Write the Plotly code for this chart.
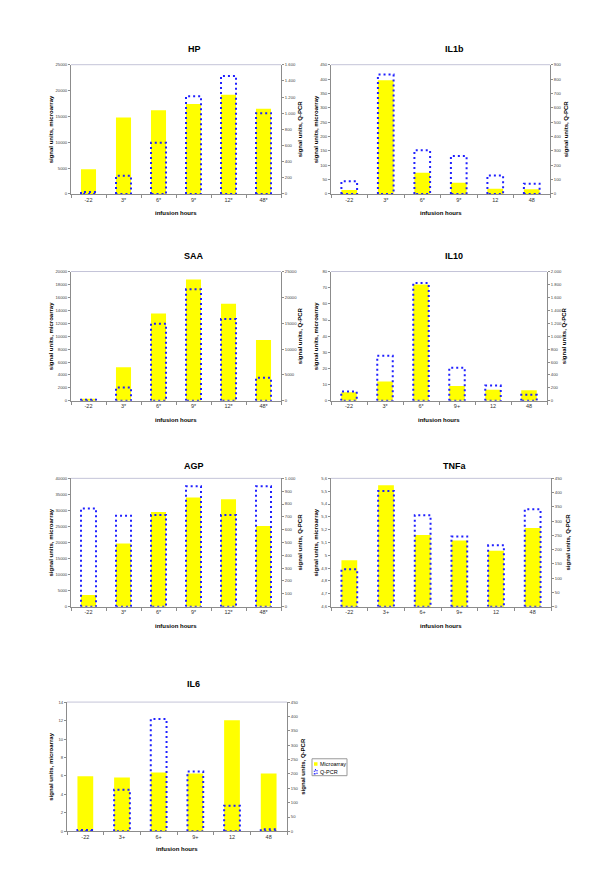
import plotly.graph_objects as go

W, H = 600, 889

# ---------------- data ----------------
HP_cats = ["-22", "3*", "6*", "9*", "12*", "48*"]
HP_micro = [4800, 14800, 16200, 17400, 19200, 16500]
HP_qpcr = [25, 225, 634, 1211, 1461, 1000]
HP_lticks = [0, 5000, 10000, 15000, 20000, 25000]
HP_ltext = ["0", "5000", "10000", "15000", "20000", "25000"]
HP_rticks = [0, 200, 400, 600, 800, 1000, 1200, 1400, 1600]
HP_rtext = ["0", "200", "400", "600", "800", "1.000", "1.200", "1.400", "1.600"]

IL1b_cats = ["-22", "3*", "6*", "9*", "12", "48"]
IL1b_micro = [14, 396, 74, 39, 18, 16]
IL1b_qpcr = [88, 831, 304, 265, 129, 71]
IL1b_lticks = [0, 50, 100, 150, 200, 250, 300, 350, 400, 450]
IL1b_ltext = ["0", "50", "100", "150", "200", "250", "300", "350", "400", "450"]
IL1b_rticks = [0, 100, 200, 300, 400, 500, 600, 700, 800, 900]
IL1b_rtext = ["0", "100", "200", "300", "400", "500", "600", "700", "800", "900"]

SAA_cats = ["-22", "3*", "6*", "9*", "12*", "48*"]
SAA_micro = [300, 5200, 13500, 18750, 15000, 9400]
SAA_qpcr = [190, 2550, 14900, 21550, 15800, 4450]
SAA_lticks = [0, 2000, 4000, 6000, 8000, 10000, 12000, 14000, 16000, 18000, 20000]
SAA_ltext = ["0", "2000", "4000", "6000", "8000", "10000", "12000", "14000", "16000", "18000", "20000"]
SAA_rticks = [0, 5000, 10000, 15000, 20000, 25000]
SAA_rtext = ["0", "5000", "10000", "15000", "20000", "25000"]

IL10_cats = ["-22", "3*", "6*", "9+", "12", "48"]
IL10_micro = [5.3, 11.9, 72, 9.2, 6.8, 6.5]
IL10_qpcr = [143, 696, 1821, 511, 235, 92]
IL10_lticks = [0, 10, 20, 30, 40, 50, 60, 70, 80]
IL10_ltext = ["0", "10", "20", "30", "40", "50", "60", "70", "80"]
IL10_rticks = [0, 200, 400, 600, 800, 1000, 1200, 1400, 1600, 1800, 2000]
IL10_rtext = ["0", "200", "400", "600", "800", "1.000", "1.200", "1.400", "1.600", "1.800", "2.000"]

AGP_cats = ["-22", "3*", "6*", "9*", "12*", "48*"]
AGP_micro = [3600, 19700, 29500, 34000, 33500, 25150]
AGP_qpcr = [765, 709, 714, 938, 714, 938]
AGP_lticks = [0, 5000, 10000, 15000, 20000, 25000, 30000, 35000, 40000]
AGP_ltext = ["0", "5000", "10000", "15000", "20000", "25000", "30000", "35000", "40000"]
AGP_rticks = [0, 100, 200, 300, 400, 500, 600, 700, 800, 900, 1000]
AGP_rtext = ["0", "100", "200", "300", "400", "500", "600", "700", "800", "900", "1.000"]

TNFa_cats = ["-22", "3+", "6+", "9+", "12", "48"]
TNFa_micro = [4.961, 5.546, 5.159, 5.115, 5.036, 5.213]
TNFa_qpcr = [131, 406, 321, 246, 215, 342]
TNFa_lticks = [4.6, 4.7, 4.8, 4.9, 5.0, 5.1, 5.2, 5.3, 5.4, 5.5, 5.6]
TNFa_ltext = ["4,6", "4,7", "4,8", "4,9", "5", "5,1", "5,2", "5,3", "5,4", "5,5", "5,6"]
TNFa_rticks = [0, 50, 100, 150, 200, 250, 300, 350, 400, 450]
TNFa_rtext = ["0", "50", "100", "150", "200", "250", "300", "350", "400", "450"]

IL6_cats = ["-22", "3+", "6+", "9+", "12", "48"]
IL6_micro = [5.98, 5.84, 6.37, 6.27, 12.03, 6.27]
IL6_qpcr = [5, 145, 391, 208, 89, 7]
IL6_lticks = [0, 2, 4, 6, 8, 10, 12, 14]
IL6_ltext = ["0", "2", "4", "6", "8", "10", "12", "14"]
IL6_rticks = [0, 50, 100, 150, 200, 250, 300, 350, 400, 450]
IL6_rtext = ["0", "50", "100", "150", "200", "250", "300", "350", "400", "450"]

series_names = ["Microarray", "Q-PCR"]

panels = [
    ("HP", HP_cats, HP_micro, HP_qpcr, HP_lticks, HP_ltext, HP_rticks, HP_rtext),
    ("IL1b", IL1b_cats, IL1b_micro, IL1b_qpcr, IL1b_lticks, IL1b_ltext, IL1b_rticks, IL1b_rtext),
    ("SAA", SAA_cats, SAA_micro, SAA_qpcr, SAA_lticks, SAA_ltext, SAA_rticks, SAA_rtext),
    ("IL10", IL10_cats, IL10_micro, IL10_qpcr, IL10_lticks, IL10_ltext, IL10_rticks, IL10_rtext),
    ("AGP", AGP_cats, AGP_micro, AGP_qpcr, AGP_lticks, AGP_ltext, AGP_rticks, AGP_rtext),
    ("TNFa", TNFa_cats, TNFa_micro, TNFa_qpcr, TNFa_lticks, TNFa_ltext, TNFa_rticks, TNFa_rtext),
    ("IL6", IL6_cats, IL6_micro, IL6_qpcr, IL6_lticks, IL6_ltext, IL6_rticks, IL6_rtext),
]

# ---------------- geometry (pixels) ----------------
geom = [
    dict(x0=63, x1=273, y0=54, y1=184, tx=186, ty=38, lx=43, rx=292, hy=203),
    dict(x0=323, x1=542, y0=54, y1=184, tx=446, ty=38, lx=308, rx=558, hy=203),
    dict(x0=63, x1=273, y0=262, y1=392, tx=186, ty=246, lx=43, rx=292, hy=411),
    dict(x0=323, x1=539, y0=262, y1=392, tx=446, ty=246, lx=308, rx=556, hy=411),
    dict(x0=63, x1=273, y0=470, y1=599, tx=186, ty=458, lx=43, rx=292, hy=618),
    dict(x0=323, x1=543, y0=470, y1=599, tx=446, ty=458, lx=308, rx=560, hy=618),
    dict(x0=59, x1=279, y0=695, y1=825, tx=185, ty=677, lx=43, rx=295, hy=843),
]

FONT = "Liberation Sans, Arial, sans-serif"
YELLOW = "#ffff00"
BLUE = "#2020ff"
AXIS = "#8c8c8c"
HW = 0.215  # half bar width in category units


def px(x):
    return x / W


def py(y):
    return 1 - y / H


fig = go.Figure()
annotations = []
shapes = []
layout = dict()

for i, (name, cats, micro, qpcr, lt, ltx, rt, rtx) in enumerate(panels):
    g = geom[i]
    n = i + 1
    xa = "x" if n == 1 else f"x{n}"
    ya = "y" if n == 1 else f"y{2 * n - 1}"
    yb = f"y{2 * n}"
    xkey = "xaxis" if n == 1 else f"xaxis{n}"
    ykey = "yaxis" if n == 1 else f"yaxis{2 * n - 1}"
    ykey2 = f"yaxis{2 * n}"

    idx = list(range(len(cats)))
    fig.add_trace(go.Bar(
        x=idx, y=micro, width=2 * HW, marker=dict(color=YELLOW, line=dict(width=0)),
        name=series_names[0], xaxis=xa, yaxis=ya, showlegend=False,
        hovertext=cats,
    ))

    xs, ys = [], []
    for k, v in zip(idx, qpcr):
        xs += [k - HW, k - HW, k + HW, k + HW, k - HW, None]
        ys += [0, v, v, 0, 0, None]
    fig.add_trace(go.Scatter(
        x=xs, y=ys, mode="lines", name=series_names[1], xaxis=xa, yaxis=yb,
        line=dict(color=BLUE, width=2, dash="2px,3px"),
        showlegend=False, connectgaps=False,
    ))

    layout[xkey] = dict(
        domain=[px(g["x0"]), px(g["x1"])], anchor=ya, range=[-0.5, len(cats) - 0.5],
        tickmode="array", tickvals=idx, ticktext=cats, ticks="",
        tickfont=dict(size=5.5, color="#333333", family=FONT),
        showline=True, linecolor=AXIS, linewidth=1, showgrid=False, zeroline=False,
        minor=dict(tickmode="linear", tick0=-0.5, dtick=1, ticks="outside",
                   ticklen=3, tickcolor=AXIS, tickwidth=1, showgrid=False),
        fixedrange=True,
    )
    layout[ykey] = dict(
        domain=[py(g["y1"]), py(g["y0"])], anchor=xa, range=[lt[0], lt[-1]],
        tickmode="array", tickvals=lt, ticktext=ltx, ticks="outside", ticklen=2,
        tickcolor=AXIS, tickfont=dict(size=4.2, color="#444444", family=FONT),
        showline=True, linecolor=AXIS, linewidth=1, showgrid=False, zeroline=False,
        fixedrange=True,
    )
    layout[ykey2] = dict(
        domain=[py(g["y1"]), py(g["y0"])], anchor=xa, overlaying=ya, side="right",
        range=[rt[0], rt[-1]], tickmode="array", tickvals=rt, ticktext=rtx,
        ticks="outside", ticklen=2, tickcolor=AXIS,
        tickfont=dict(size=4.2, color="#444444", family=FONT),
        showline=True, linecolor=AXIS, linewidth=1, showgrid=False, zeroline=False,
        fixedrange=True,
    )

    annotations.append(dict(
        text=f"<b>{name}</b>", x=px(g["tx"]), y=py(g["ty"]), xref="paper", yref="paper",
        showarrow=False, font=dict(size=9, color="#000000", family=FONT),
        xanchor="center", yanchor="middle",
    ))
    midy = (g["y0"] + g["y1"]) / 2
    annotations.append(dict(
        text="<b>signal units, microarray</b>", x=px(g["lx"]), y=py(midy),
        xref="paper", yref="paper", showarrow=False, textangle=-90,
        font=dict(size=6, color="#000000", family=FONT), xanchor="center", yanchor="middle",
    ))
    annotations.append(dict(
        text="<b>signal units, Q-PCR</b>", x=px(g["rx"]), y=py(midy),
        xref="paper", yref="paper", showarrow=False, textangle=-90,
        font=dict(size=6, color="#000000", family=FONT), xanchor="center", yanchor="middle",
    ))
    annotations.append(dict(
        text="<b>infusion hours</b>", x=px((g["x0"] + g["x1"]) / 2), y=py(g["hy"]),
        xref="paper", yref="paper", showarrow=False,
        font=dict(size=6, color="#000000", family=FONT), xanchor="center", yanchor="middle",
    ))
    # light top border of the plot area
    shapes.append(dict(type="line", xref="paper", yref="paper",
                       x0=px(g["x0"]), x1=px(g["x1"]), y0=py(g["y0"]), y1=py(g["y0"]),
                       line=dict(color="#c4c4d8", width=1)))

# ---------------- compact legend (inside the IL6 panel area) ----------------
LX0, LX1, LY0, LY1 = 304, 339, 752, 769
shapes.append(dict(type="rect", xref="paper", yref="paper",
                   x0=px(LX0), x1=px(LX1), y0=py(LY1), y1=py(LY0),
                   line=dict(color="#999999", width=1), fillcolor="white"))
shapes.append(dict(type="rect", xref="paper", yref="paper",
                   x0=px(306), x1=px(309.5), y0=py(759), y1=py(755.5),
                   line=dict(width=0), fillcolor=YELLOW))
shapes.append(dict(type="rect", xref="paper", yref="paper",
                   x0=px(306.5), x1=px(309), y0=py(767), y1=py(763),
                   line=dict(color=BLUE, width=1.5, dash="1px,1.5px"), fillcolor="rgba(0,0,0,0)"))
annotations.append(dict(text=series_names[0], x=px(310), y=py(757.3), xref="paper", yref="paper",
                        showarrow=False, xanchor="left", yanchor="middle",
                        font=dict(size=5.5, color="#000000", family=FONT)))
annotations.append(dict(text=series_names[1], x=px(310), y=py(765), xref="paper", yref="paper",
                        showarrow=False, xanchor="left", yanchor="middle",
                        font=dict(size=5.5, color="#000000", family=FONT)))

fig.update_layout(
    width=W, height=H, margin=dict(l=0, r=0, t=0, b=0),
    paper_bgcolor="white", plot_bgcolor="white",
    barmode="overlay", showlegend=False,
    annotations=annotations, shapes=shapes,
    font=dict(family=FONT),
    **layout,
)

fig.write_html("out.html")
